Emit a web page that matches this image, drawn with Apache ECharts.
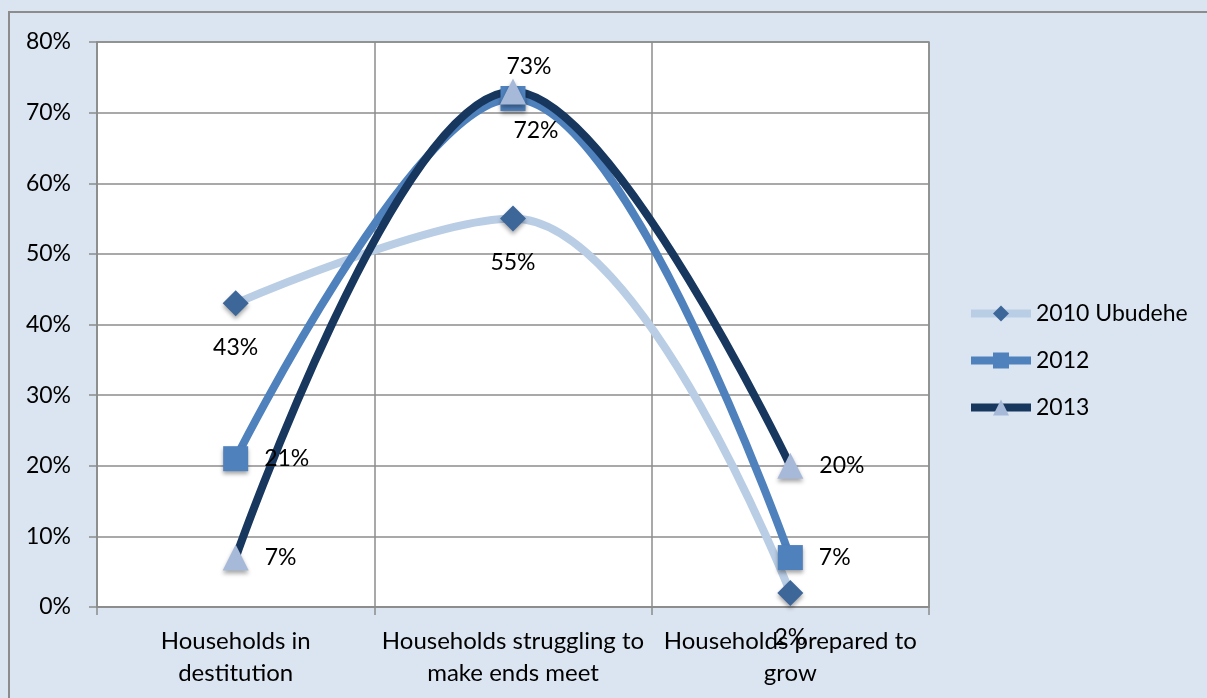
<!DOCTYPE html>
<html>
<head>
<meta charset="utf-8">
<script src="https://cdn.jsdelivr.net/npm/echarts@6/dist/echarts.min.js"></script>
<style>
  html, body { margin: 0; padding: 0; background: #dbe5f1; }
  #chart { width: 1207px; height: 698px; }
</style>
</head>
<body>
<div id="chart"></div>
<script>
var categories = ['Households in\ndestitution', 'Households struggling to\nmake ends meet', 'Households prepared to\ngrow'];
var seriesNames = ['2010 Ubudehe', '2012', '2013'];
var data2010 = [43, 55, 2];
var data2012 = [21, 72, 7];
var data2013 = [7, 73, 20];
var yTicks = [0, 10, 20, 30, 40, 50, 60, 70, 80];

var font = 'Lato, "Open Sans", sans-serif';
var gridGray = '#8c8c8c';

var chart = echarts.init(document.getElementById('chart'));

function pct(p) { return p.value + '%'; }

// marker shadow, like the office chart
var shadow = { shadowBlur: 4, shadowColor: 'rgba(0,0,0,0.35)', shadowOffsetY: 3 };
var smoothness = 0.38;

var option = {
  backgroundColor: '#dbe5f1',
  animation: false,
  textStyle: { fontFamily: font, color: '#000' },
  graphic: [{
    type: 'rect',
    shape: { x: 9, y: 12, width: 1210, height: 700 },
    style: { fill: 'none', stroke: '#8c8c8c', lineWidth: 2 },
    silent: true
  }],
  grid: {
    left: 97, right: 278, top: 42, bottom: 91,
    show: true, backgroundColor: '#fff', borderColor: gridGray, borderWidth: 1.5
  },
  legend: {
    orient: 'vertical',
    left: 962, top: 297,
    itemWidth: 60, itemHeight: 20, itemGap: 24,
    lineStyle: { width: 8 },
    textStyle: { fontFamily: font, fontSize: 23, color: '#000' },
    data: seriesNames
  },
  xAxis: {
    type: 'category',
    data: categories,
    axisLine: { lineStyle: { color: gridGray, width: 1.5 } },
    axisTick: { show: true, length: 8, lineStyle: { color: gridGray, width: 1.5 } },
    splitLine: { show: true, lineStyle: { color: gridGray, width: 1.5 } },
    axisLabel: { fontFamily: font, fontSize: 24, color: '#000', lineHeight: 32, margin: 18, interval: 0 }
  },
  yAxis: {
    type: 'value',
    min: yTicks[0], max: yTicks[yTicks.length - 1], interval: 10,
    axisLine: { show: true, lineStyle: { color: gridGray, width: 1.5 } },
    axisTick: { show: true, length: 8, lineStyle: { color: gridGray, width: 1.5 } },
    splitLine: { lineStyle: { color: gridGray, width: 1.5 } },
    axisLabel: { fontFamily: font, fontSize: 23, color: '#000', margin: 26, formatter: '{value}%' }
  },
  series: [
    {
      name: seriesNames[0], type: 'line', data: data2010, smooth: smoothness,
      symbol: 'diamond', symbolSize: 26,
      lineStyle: { color: '#b9cde5', width: 8 },
      itemStyle: Object.assign({ color: '#3d6699' }, shadow),
      label: { show: true, position: 'bottom', distance: 20, formatter: pct, fontFamily: font, fontSize: 23, color: '#000' }
    },
    {
      name: seriesNames[1], type: 'line', smooth: smoothness,
      data: [
        data2012[0],
        { value: data2012[1], label: { position: 'bottom', distance: 8, offset: [23, 0] } },
        data2012[2]
      ],
      symbol: 'rect', symbolSize: 25,
      lineStyle: { color: '#4f81bd', width: 8 },
      itemStyle: Object.assign({ color: '#4f81bd' }, shadow),
      label: { show: true, position: 'right', distance: 16, formatter: pct, fontFamily: font, fontSize: 23, color: '#000' }
    },
    {
      name: seriesNames[2], type: 'line', smooth: smoothness,
      data: [
        data2013[0],
        { value: data2013[1], label: { position: 'top', distance: 0, offset: [16, 0] } },
        data2013[2]
      ],
      symbol: 'triangle', symbolSize: 26,
      lineStyle: { color: '#17375e', width: 8 },
      itemStyle: Object.assign({ color: '#a7b9d8' }, shadow),
      label: { show: true, position: 'right', distance: 16, formatter: pct, fontFamily: font, fontSize: 23, color: '#000' }
    }
  ]
};

chart.setOption(option);
</script>
</body>
</html>
